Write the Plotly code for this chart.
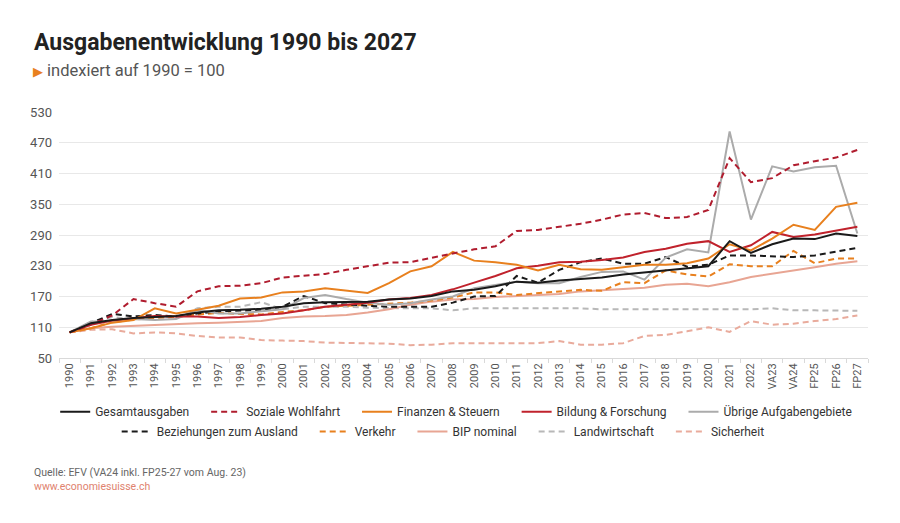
import plotly.graph_objects as go

categories = [str(y) for y in range(1990, 2023)] + ["VA23", "VA24", "FP25", "FP26", "FP27"]

gesamtausgaben = [100, 118, 124, 128, 130, 132, 139, 143, 144, 146, 150, 157, 159,
                  160, 160, 164, 166, 171, 180, 183, 190, 199, 197, 201, 204,
                  207, 213, 217, 222, 226, 229, 278, 255,
                  272, 283, 282, 293, 288]
soziale_wohlfahrt = [100, 115, 133, 165, 157, 150, 180, 190, 191, 196, 207, 211, 214,
                     222, 229, 236, 237, 246, 254, 262, 268, 298, 300, 306, 312,
                     320, 330, 333, 323, 325, 339, 440, 393,
                     401, 426, 434, 441, 456]
finanzen_steuern = [100, 108, 119, 124, 147, 137, 144, 152, 166, 168, 178, 180, 186,
                    182, 177, 196, 219, 229, 257, 240, 237, 232, 221, 232, 223,
                    222, 227, 232, 232, 235, 244, 272, 260,
                    283, 310, 300, 345, 353]
bildung_forschung = [100, 115, 123, 128, 132, 131, 131, 128, 130, 134, 137, 143, 150,
                     154, 158, 164, 167, 173, 184, 197, 210, 225, 230, 237, 238,
                     241, 246, 257, 263, 273, 278, 257, 270,
                     296, 286, 291, 298, 306]
uebrige = [100, 121, 121, 126, 124, 126, 144, 137, 137, 141, 145, 167, 173,
           165, 158, 154, 157, 164, 170, 186, 193, 199, 196, 196, 208,
           218, 219, 203, 246, 262, 256, 492, 320,
           424, 414, 422, 425, 293]
beziehungen_ausland = [100, 118, 136, 131, 134, 131, 137, 141, 143, 144, 150, 171, 157,
                       154, 152, 150, 150, 150, 158, 170, 171, 210, 197, 222, 237,
                       244, 234, 234, 247, 228, 232, 250, 250,
                       249, 247, 250, 257, 265]
verkehr = [100, 108, 120, 125, 128, 130, 135, 138, 136, 135, 140, 143, 150,
           152, 153, 155, 158, 162, 168, 178, 178, 173, 177, 180, 183,
           181, 198, 196, 221, 213, 209, 233, 229,
           229, 259, 235, 244, 244]
bip_nominal = [100, 108, 111, 113, 115, 117, 118, 119, 120, 122, 128, 131, 132,
               134, 139, 145, 154, 160, 164, 165, 169, 171, 173, 175, 180,
               182, 185, 187, 193, 195, 190, 198, 208,
               214, 221, 227, 234, 239]
landwirtschaft = [100, 120, 130, 125, 130, 130, 147, 150, 150, 159, 145, 150, 150,
                  150, 148, 147, 147, 147, 143, 147, 147, 147, 148, 148, 147,
                  145, 145, 145, 144, 145, 145, 145, 145,
                  147, 143, 143, 142, 142]
sicherheit = [100, 105, 106, 98, 100, 98, 93, 90, 90, 85, 84, 83, 80,
              79, 78, 78, 75, 76, 79, 79, 78, 79, 79, 83, 76,
              76, 79, 93, 95, 102, 110, 101, 122,
              115, 117, 122, 126, 133]

y_ticks = [50, 110, 170, 230, 290, 350, 410, 470, 530]

DASH = "6px,4px"
series = [
    # name, data, color, dash, legend, rank
    ("Gesamtausgaben", gesamtausgaben, "#1a1a1a", "solid", "legend", 1),
    ("Soziale Wohlfahrt", soziale_wohlfahrt, "#b01c2e", DASH, "legend", 2),
    ("Finanzen & Steuern", finanzen_steuern, "#e8801e", "solid", "legend", 3),
    ("Bildung & Forschung", bildung_forschung, "#c0222c", "solid", "legend", 4),
    ("Übrige Aufgabengebiete", uebrige, "#ababab", "solid", "legend", 5),
    ("Beziehungen zum Ausland", beziehungen_ausland, "#1a1a1a", DASH, "legend2", 1),
    ("Verkehr", verkehr, "#e8801e", DASH, "legend2", 2),
    ("BIP nominal", bip_nominal, "#e8a593", "solid", "legend2", 3),
    ("Landwirtschaft", landwirtschaft, "#b8b8b8", DASH, "legend2", 4),
    ("Sicherheit", sicherheit, "#e9ab9c", DASH, "legend2", 5),
]

fig = go.Figure()
for name, data, color, dash, leg, rank in reversed(series):
    pad = "" if rank == 5 else ("&nbsp;" * (4 if leg == "legend" else 4))
    fig.add_trace(go.Scatter(
        x=categories, y=data, name=name + pad, mode="lines",
        line=dict(color=color, width=2, dash=dash),
        legend=leg, legendrank=rank,
    ))

FONT = "Roboto"
L, R, T, B = 59, 32.4, 112, 164.7
W, H = 900, 523
pw, ph = W - L - R, H - T - B

def px(xp):
    return (xp - L) / pw

def py(yp):
    return (H - B - yp) / ph

fig.update_layout(
    width=W, height=H,
    margin=dict(l=L, r=R, t=T, b=B, autoexpand=False),
    paper_bgcolor="white", plot_bgcolor="white",
    font=dict(family=FONT, color="#444444"),
    showlegend=True,
    legend=dict(orientation="h", x=px(456), xanchor="center", y=py(412), yanchor="middle",
                font=dict(size=12, color="#333333"), traceorder="normal",
                itemwidth=30, bgcolor="rgba(0,0,0,0)"),
    legend2=dict(orientation="h", x=px(443), xanchor="center", y=py(432), yanchor="middle",
                 font=dict(size=12, color="#333333"), traceorder="normal",
                 itemwidth=30, bgcolor="rgba(0,0,0,0)"),
    xaxis=dict(
        type="category", categoryorder="array", categoryarray=categories,
        range=[-0.5, len(categories) - 0.5],
        tickangle=-90, tickfont=dict(size=11, color="#555555"),
        showgrid=False, showline=True, linecolor="#d9d9d9", linewidth=1,
        ticks="outside", tickson="boundaries", ticklen=4, tickcolor="#d9d9d9",
        zeroline=False,
    ),
    yaxis=dict(
        range=[50, 530], tickvals=y_ticks, ticktext=[str(v) for v in y_ticks],
        tickfont=dict(size=13, color="#555555"),
        showgrid=True, gridcolor="#e8e8e8", gridwidth=1, zeroline=False,
        ticks="", ticklabelstandoff=6,
    ),
    annotations=[
        dict(text="<b>Ausgabenentwicklung 1990 bis 2027</b>", xref="paper", yref="paper",
             x=px(32), y=py(42), xanchor="left", yanchor="middle", showarrow=False,
             font=dict(size=23, color="#222222", family=FONT)),
        dict(text="<span style='color:#e8801e;font-size:13px'>▶</span> indexiert auf 1990 = 100",
             xref="paper", yref="paper",
             x=px(31), y=py(70), xanchor="left", yanchor="middle", showarrow=False,
             font=dict(size=16.5, color="#555555", family=FONT)),
        dict(text="Quelle: EFV (VA24 inkl. FP25-27 vom Aug. 23)", xref="paper", yref="paper",
             x=px(32), y=py(473), xanchor="left", yanchor="middle", showarrow=False,
             font=dict(size=10.5, color="#666666", family=FONT)),
        dict(text="www.economiesuisse.ch", xref="paper", yref="paper",
             x=px(32), y=py(487), xanchor="left", yanchor="middle", showarrow=False,
             font=dict(size=10.5, color="#e0826e", family=FONT)),
    ],
)

fig.write_html("out.html", config={"displayModeBar": False},
               post_script="document.body.style.margin='0';document.body.style.overflow='hidden';")
